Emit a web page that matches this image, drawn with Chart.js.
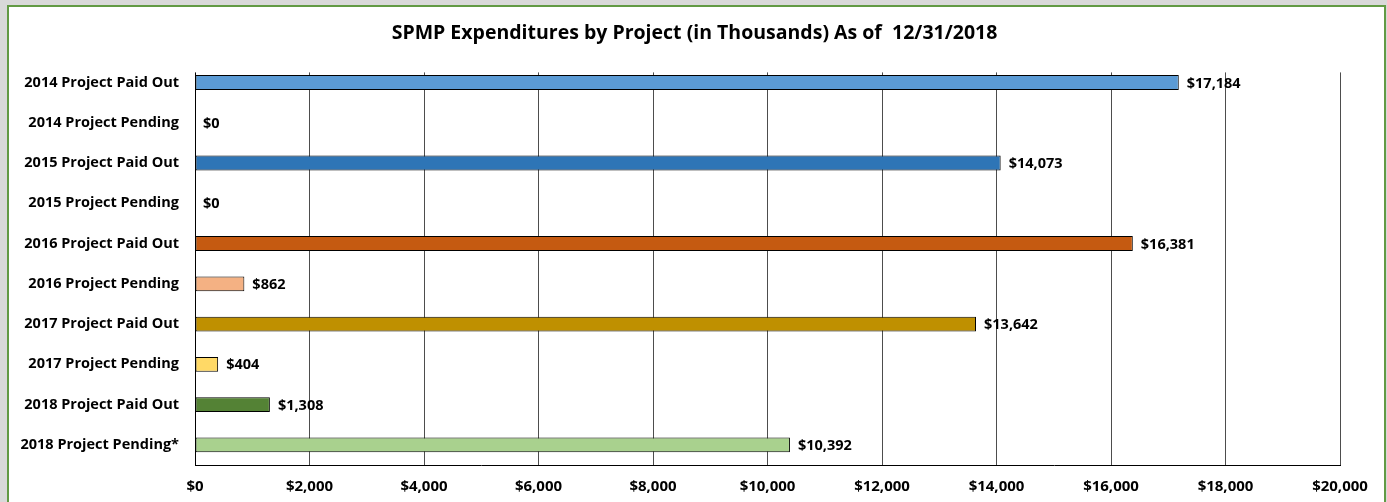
<!DOCTYPE html>
<html>
<head>
<meta charset="utf-8">
<script src="https://cdn.jsdelivr.net/npm/chart.js@4/dist/chart.umd.min.js"></script>
<style>
  html, body { margin: 0; padding: 0; background: #d9d9d9; }
  #frame {
    position: absolute; left: 7px; top: 5px; width: 1375px; height: 500px;
    background: #ffffff; border: 2px solid #629a44; border-bottom: none;
  }
  #wrap { position: absolute; left: 0; top: 0; width: 1375px; height: 497px; }
</style>
</head>
<body>
<div id="frame"><div id="wrap"><canvas id="bar-chart-spmp"></canvas></div></div>
<script>
// datos (miles de $)
const categorias = [
  "2014 Project Paid Out",
  "2014 Project Pending",
  "2015 Project Paid Out",
  "2015 Project Pending",
  "2016 Project Paid Out",
  "2016 Project Pending",
  "2017 Project Paid Out",
  "2017 Project Pending",
  "2018 Project Paid Out",
  "2018 Project Pending*"
];
const montos = [17184, 0, 14073, 0, 16381, 862, 13642, 404, 1308, 10392];
const ticksX = [0, 2000, 4000, 6000, 8000, 10000, 12000, 14000, 16000, 18000, 20000];

const paletaBarras = ["#5b9bd5", "#5b9bd5", "#2e75b6", "#2e75b6", "#c55a11",
                      "#f4b183", "#bf9000", "#ffd966", "#548235", "#a9d18e"];

const fuente = "'Open Sans', 'DejaVu Sans', sans-serif";

function formatoDolar(v) {
  return "$" + Number(v).toLocaleString("en-US");
}

// en el original la grilla empieza un poco mas abajo que el area del grafico
const recorteGrilla = {
  id: "recorteGrilla",
  beforeDatasetsDraw(chart) {
    const a = chart.chartArea;
    const ctx = chart.ctx;
    ctx.save();
    ctx.fillStyle = "#ffffff";
    ctx.fillRect(a.left - 2, a.top - 1, a.right - a.left + 4, 11);
    ctx.restore();
  }
};

// etiquetas de valor al final de cada barra
const etiquetasBarras = {
  id: "etiquetasBarras",
  afterDatasetsDraw(chart) {
    const ctx = chart.ctx;
    const meta = chart.getDatasetMeta(0);
    ctx.save();
    ctx.font = "bold 14.5px " + fuente;
    ctx.fillStyle = "#000000";
    ctx.textAlign = "left";
    ctx.textBaseline = "middle";
    meta.data.forEach(function (bar, i) {
      ctx.fillText(formatoDolar(montos[i]), bar.x + 8, bar.y + 1);
    });
    ctx.restore();
  }
};

new Chart(document.getElementById("bar-chart-spmp"), {
  type: "bar",
  data: {
    labels: categorias,
    datasets: [{
      data: montos,
      backgroundColor: paletaBarras,
      borderColor: "#000000",
      borderWidth: 1,
      borderSkipped: false,
      barPercentage: 0.37,
      categoryPercentage: 1
    }]
  },
  options: {
    indexAxis: "y",
    responsive: true,
    maintainAspectRatio: false,
    animation: false,
    layout: { padding: { left: 0, right: 4, top: 0, bottom: 8 } },
    plugins: {
      legend: { display: false },
      tooltip: { enabled: false },
      title: {
        display: true,
        text: "SPMP Expenditures by Project (in Thousands) As of  12/31/2018",
        color: "#000000",
        font: { family: fuente, size: 19.5, weight: "bold" },
        padding: { top: 15, bottom: 17 }
      }
    },
    scales: {
      x: {
        min: 0,
        max: 20000,
        afterBuildTicks(scale) {
          scale.ticks = ticksX.map(v => ({ value: v }));
        },
        afterFit(scale) { scale.height = 31; },
        grid: { color: "#4d4d4d", lineWidth: 1, drawTicks: false },
        border: { display: true, color: "#000000", width: 1 },
        ticks: {
          color: "#000000",
          padding: 13,
          maxRotation: 0,
          font: { family: fuente, size: 15, weight: "bold" },
          callback: function (v) { return formatoDolar(v); }
        }
      },
      y: {
        afterFit(scale) { scale.width = 186; },
        grid: { display: false, drawTicks: false },
        border: { display: true, color: "#000000", width: 1 },
        ticks: {
          color: "#000000",
          padding: 16,
          font: { family: fuente, size: 14.5, weight: "bold" }
        }
      },
      // eje vacio a la derecha, solo reserva el margen
      margenDer: {
        axis: "y",
        type: "category",
        position: "right",
        afterFit(scale) { scale.width = 40; },
        grid: { display: false, drawTicks: false },
        border: { display: false },
        ticks: { display: false }
      }
    }
  },
  plugins: [recorteGrilla, etiquetasBarras]
});
</script>
</body>
</html>
